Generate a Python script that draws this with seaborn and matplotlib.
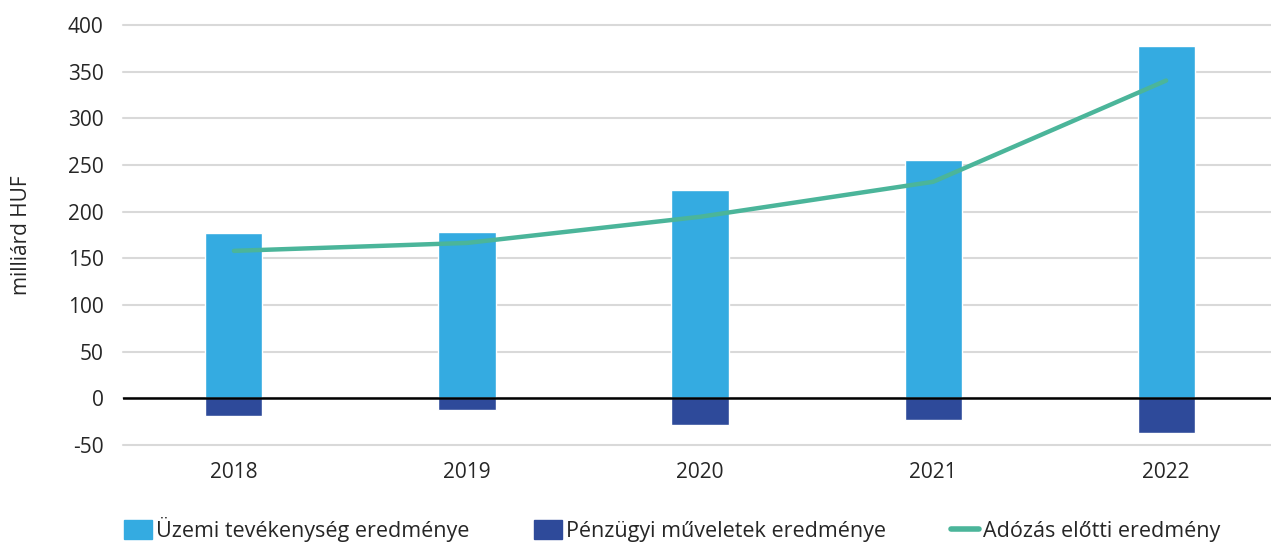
import numpy as np
import pandas as pd
import matplotlib
matplotlib.use("Agg")
import matplotlib.pyplot as plt
from matplotlib.patches import Patch
from matplotlib.lines import Line2D
import seaborn as sns

# adatok (milliárd HUF)
years = ["2018", "2019", "2020", "2021", "2022"]
operating = [177, 178, 223, 255, 378]
financial = [-19, -12.5, -28.6, -23.6, -37.5]
pretax = [158, 166.5, 194.5, 232, 340.5]

labels = ["Üzemi tevékenység eredménye", "Pénzügyi műveletek eredménye", "Adózás előtti eredmény"]
colors = ["#34ABE1", "#2E4A9A", "#4BB59A"]

df = pd.DataFrame({"year": years, "operating": operating,
                   "financial": financial, "pretax": pretax})

sns.set_style("white")
plt.rcParams["font.family"] = ["Open Sans", "DejaVu Sans"]
plt.rcParams["axes.unicode_minus"] = False

fig = plt.figure(figsize=(12.71, 5.46), dpi=100)
ax = fig.add_axes([123 / 1271, 1 - 445 / 546, 1 - 123 / 1271, 420 / 546])

sns.barplot(data=df, x="year", y="operating", color=colors[0], width=0.245,
            saturation=1, ax=ax, zorder=2)
sns.barplot(data=df, x="year", y="financial", color=colors[1], width=0.245,
            saturation=1, ax=ax, zorder=2)
pos = np.arange(len(years))
sns.lineplot(x=pos, y=df["pretax"], color=colors[2], linewidth=3.2, ax=ax,
             zorder=4, solid_capstyle="round")

ax.set_ylim(-50, 400)
ax.set_xlim(-0.476, 4.45)
ax.set_yticks(range(-50, 401, 50))
ax.grid(axis="y", color="#D9D9D9", linewidth=1.5, zorder=0)
ax.axhline(0, color="black", linewidth=1.8, zorder=3)
for s in ax.spines.values():
    s.set_visible(False)
for child in ax.get_ygridlines():
    child.set_clip_on(False)

ax.set_xlabel("")
ax.set_ylabel("milliárd HUF", fontsize=15)
ax.yaxis.set_label_coords(-0.079, 0.5)
ax.tick_params(axis="y", labelsize=15, pad=14, length=0)
ax.tick_params(axis="x", labelsize=15, pad=12, length=0)

handles = [Patch(color=colors[0]), Patch(color=colors[1]),
           Line2D([0], [0], color=colors[2], linewidth=4, solid_capstyle="round")]
fig.legend(handles, labels, loc="center left", bbox_to_anchor=(0.082, 0.03),
           ncol=3, frameon=False, fontsize=15.5, handlelength=1.3, handleheight=1.0,
           handletextpad=0.2, columnspacing=3.0)

fig.savefig("out.png", dpi=100)
